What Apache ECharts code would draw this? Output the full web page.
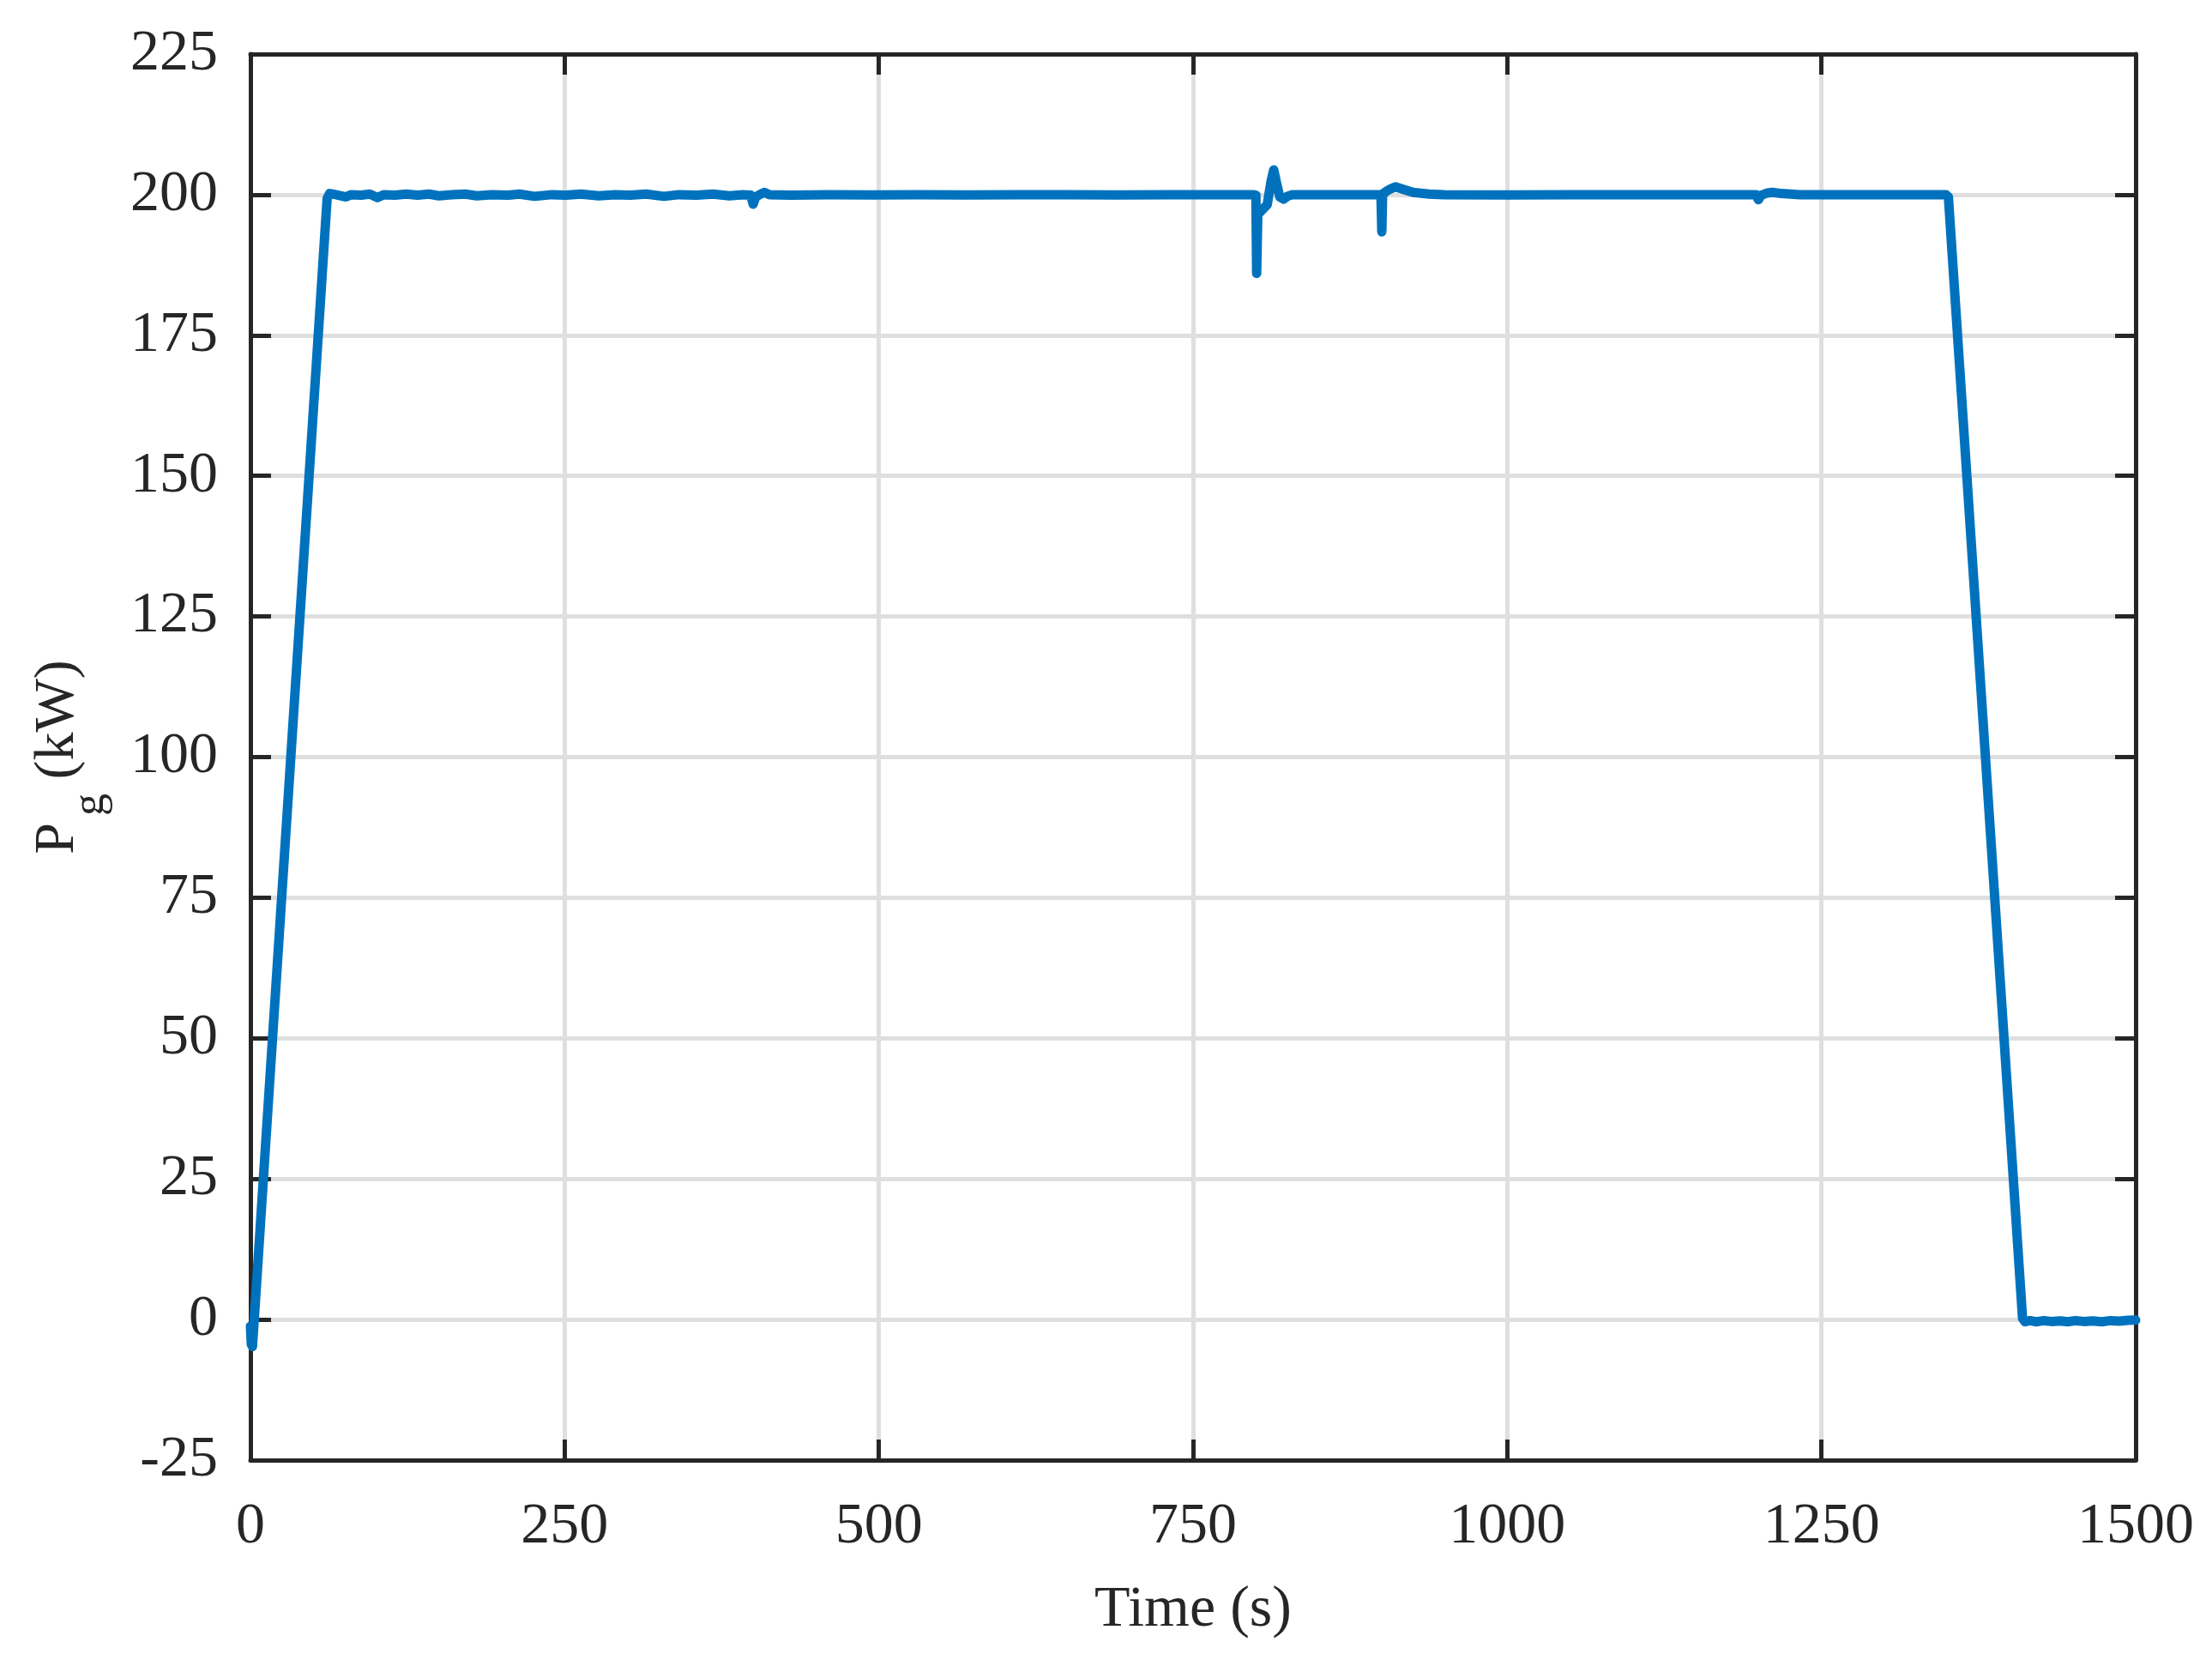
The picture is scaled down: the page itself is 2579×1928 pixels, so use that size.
<!DOCTYPE html>
<html>
<head>
<meta charset="utf-8">
<title>Pg</title>
<script src="https://cdn.jsdelivr.net/npm/echarts/dist/echarts.min.js"></script>
<style>
  html, body { margin: 0; padding: 0; background: #fff; }
  #main { width: 2579px; height: 1928px; }
</style>
</head>
<body>
<div id="main"></div>
<script type="text/javascript">
// time (s) and generator power Pg (kW)
var timeS = [0, 0.7, 1.6, 3, 61, 63, 66, 70, 76, 80, 88, 95, 101, 106, 115, 124, 133, 142, 150, 160,
  171, 180, 192, 205, 214, 226, 240, 251, 263, 277, 290, 302, 315, 329, 341, 355, 368, 381, 392, 398,
  400, 402, 406, 409, 413, 430, 460, 495, 530, 570, 610, 650, 690, 730, 770, 798, 800, 800.6, 801.5, 805,
  809, 812, 814.2, 816.5, 819, 822, 825, 829, 850, 880, 899.5, 900.2, 900.8, 902, 906, 911, 918, 925, 938, 950,
  1000, 1050, 1100, 1150, 1198, 1199.8, 1202, 1207, 1211, 1218, 1233, 1260, 1300, 1349, 1351, 1410,
  1412, 1416, 1421, 1427, 1433, 1440, 1446, 1452, 1459, 1466, 1473, 1480, 1487, 1494, 1500];
var pgKW = [-1.2, -4.4, -4.8, 0, 199.3, 200.2, 200.1, 199.9, 199.6, 200.0, 199.9, 200.1, 199.5, 200.0, 199.9, 200.1, 199.9, 200.1, 199.8, 200.0,
  200.1, 199.8, 200.0, 199.9, 200.1, 199.7, 200.0, 199.9, 200.1, 199.8, 200.0, 199.9, 200.1, 199.7, 200.0, 199.9, 200.1, 199.8, 200.0, 199.9,
  198.3, 199.6, 200.1, 200.4, 200.0, 199.9, 200.0, 199.95, 200.0, 199.95, 200.0, 200.0, 199.95, 200.0, 200.0, 200.0, 199.9, 186.0, 196.5, 197.3,
  198.2, 202.3, 204.4, 202.0, 199.6, 199.2, 199.7, 200.0, 200.0, 200.0, 200.0, 193.4, 199.8, 200.3, 200.9, 201.4, 200.9, 200.4, 200.1, 200.0,
  199.95, 200.0, 200.0, 200.0, 200.0, 199.1, 199.9, 200.3, 200.4, 200.2, 200.0, 200.0, 200.0, 200.0, 199.6, 0.2,
  -0.4, -0.2, -0.4, -0.2, -0.35, -0.25, -0.4, -0.2, -0.35, -0.25, -0.4, -0.2, -0.3, -0.15, -0.1];

var xMin = 0, xMax = 1500, xStep = 250;
var yMin = -25, yMax = 225, yStep = 25;

var seriesData = [];
for (var i = 0; i < timeS.length; i++) {
  seriesData.push([timeS[i], pgKW[i]]);
}

var ink = '#262626';
var serif = '"Liberation Serif", "Times New Roman", serif';

function tickAxis(pos, showLabel) {
  var horiz = (pos === 'top' || pos === 'bottom');
  return {
    type: 'value', position: pos,
    min: horiz ? xMin : yMin,
    max: horiz ? xMax : yMax,
    interval: horiz ? xStep : yStep,
    z: 1,
    axisLine: { show: true, onZero: false, lineStyle: { color: ink, width: 5 } },
    axisTick: { show: true, inside: true, length: 24, lineStyle: { color: ink, width: 5 } },
    axisLabel: {
      show: showLabel, color: ink, fontFamily: serif, fontSize: 68,
      margin: pos === 'left' ? 38 : 44,
      formatter: function (v) { return String(v); }
    },
    splitLine: { show: false }
  };
}

var xBottom = tickAxis('bottom', true);
xBottom.name = 'Time (s)';
xBottom.nameLocation = 'middle';
xBottom.nameGap = 141;
xBottom.nameTextStyle = { color: ink, fontFamily: serif, fontSize: 68 };

var yLeft = tickAxis('left', true);
yLeft.name = '{p|P}{g|g}{p| (kW)}';
yLeft.nameLocation = 'middle';
yLeft.nameGap = 160;
yLeft.nameTextStyle = {
  color: ink, fontFamily: serif, fontSize: 66,
  rich: {
    p: { color: ink, fontFamily: serif, fontSize: 66 },
    g: { color: ink, fontFamily: serif, fontSize: 52, padding: [76, 0, 0, 8] }
  }
};

// grid lines only, kept under the ticks
var xGridAxis = {
  type: 'value', position: 'bottom', min: xMin, max: xMax, interval: xStep, z: 0,
  axisLine: { show: false }, axisTick: { show: false }, axisLabel: { show: false },
  splitLine: { show: true, lineStyle: { color: '#dfdfdf', width: 5 } }
};
var yGridAxis = {
  type: 'value', position: 'left', min: yMin, max: yMax, interval: yStep, z: 0,
  axisLine: { show: false }, axisTick: { show: false }, axisLabel: { show: false },
  splitLine: { show: true, lineStyle: { color: '#dfdfdf', width: 5 } }
};

var option = {
  backgroundColor: '#ffffff',
  animation: false,
  grid: { left: 292, right: 89, top: 63, bottom: 226, containLabel: false },
  xAxis: [xGridAxis, xBottom, tickAxis('top', false)],
  yAxis: [yGridAxis, yLeft, tickAxis('right', false)],
  series: [{
    name: 'Pg',
    type: 'line',
    xAxisIndex: 1,
    yAxisIndex: 1,
    data: seriesData,
    showSymbol: false,
    clip: false,
    z: 5,
    lineStyle: { color: '#0072BD', width: 11, cap: 'round', join: 'round' }
  }]
};

var chart = echarts.init(document.getElementById('main'));
chart.setOption(option);
</script>
</body>
</html>
